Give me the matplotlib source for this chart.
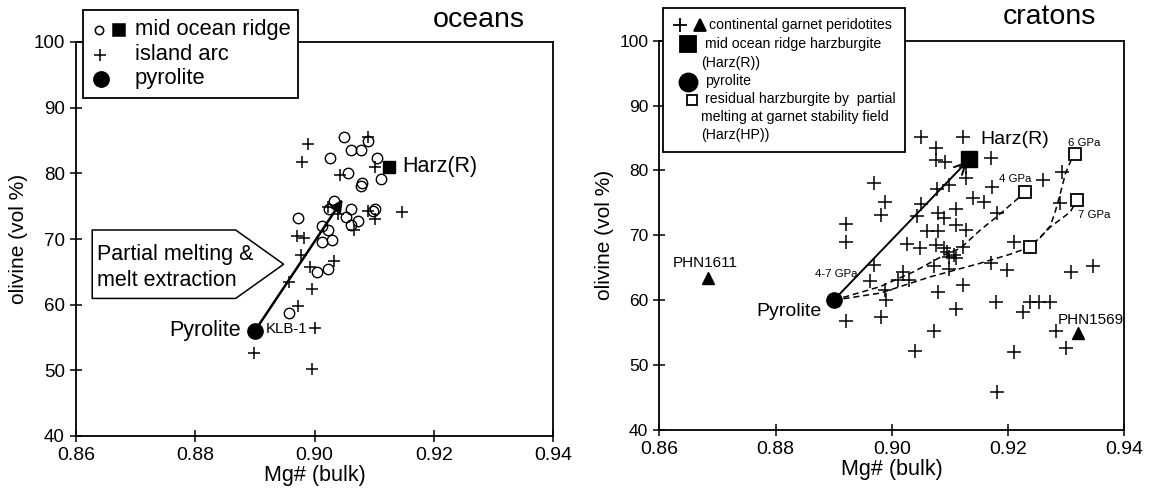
import matplotlib
matplotlib.use("Agg")
import matplotlib.pyplot as plt
from matplotlib.lines import Line2D
from matplotlib.patches import Rectangle, Polygon

plt.rcParams['font.family'] = ['Liberation Sans', 'DejaVu Sans']

# ---- oceans panel ----
mor_x = [0.9050, 0.9062, 0.9078, 0.9090, 0.9026, 0.9105, 0.9056, 0.9111, 0.9079,
         0.9078, 0.9032, 0.9024, 0.9062, 0.9101, 0.9098, 0.9053, 0.9073, 0.9061,
         0.8973, 0.9012, 0.9022, 0.9030, 0.9012, 0.9023, 0.9004, 0.8957]
mor_y = [85.5, 83.6, 83.6, 84.9, 82.4, 82.4, 80.1, 79.1, 78.5,
         78.0, 75.8, 74.6, 74.6, 74.6, 74.2, 73.4, 72.8, 72.1,
         73.2, 72.0, 71.4, 69.8, 69.5, 65.4, 64.9, 58.8]
arc_x = [0.8989, 0.8979, 0.9089, 0.9042, 0.9101, 0.9146, 0.9101, 0.9067, 0.9090,
         0.9023, 0.9040, 0.8971, 0.8982, 0.8978, 0.9032, 0.8993, 0.8957, 0.8996,
         0.8973, 0.9001, 0.8898, 0.8996]
arc_y = [84.4, 81.8, 85.5, 79.8, 80.9, 74.1, 73.0, 71.3, 74.3,
         74.8, 73.8, 70.4, 70.2, 67.5, 66.7, 65.7, 63.4, 62.4,
         59.8, 56.5, 52.7, 50.2]
oc_pyrolite = (0.890, 56.0)
oc_harz = (0.9125, 81.0)
oc_arrow_end = (0.905, 76.4)

# ---- cratons panel ----
gp_x = [0.9050, 0.9122, 0.9076, 0.9076, 0.9092, 0.9171, 0.9127, 0.9127, 0.8970,
        0.9098, 0.9078, 0.9173, 0.9260, 0.9292, 0.8989, 0.9051, 0.9140, 0.9159,
        0.9289, 0.8981, 0.9043, 0.9079, 0.9089, 0.9111, 0.9181, 0.8921, 0.9111,
        0.9127, 0.9079, 0.9060, 0.8922, 0.9027, 0.9048, 0.9076, 0.9089, 0.9122,
        0.9098, 0.9111, 0.9210, 0.8970, 0.9073, 0.9098, 0.9171, 0.9199, 0.9308,
        0.9346, 0.8962, 0.9019, 0.9010, 0.9029, 0.8989, 0.8990, 0.9079, 0.9122,
        0.9111, 0.9180, 0.9225, 0.9237, 0.9253, 0.9273, 0.8921, 0.8981, 0.9072,
        0.9283, 0.9300, 0.9040, 0.9211, 0.9181, 0.9095, 0.9107]
gp_y = [85.2, 85.2, 83.4, 81.6, 81.3, 81.9, 80.5, 78.9, 78.1,
        77.8, 77.1, 77.4, 78.5, 79.8, 75.2, 74.9, 75.7, 75.2,
        75.0, 73.2, 73.0, 73.4, 72.6, 74.0, 73.4, 71.7, 71.6,
        70.8, 70.6, 70.7, 68.9, 68.6, 68.0, 68.5, 68.0, 68.2,
        66.7, 66.5, 69.0, 65.4, 65.2, 64.8, 65.7, 64.7, 64.4,
        65.2, 62.9, 64.4, 63.1, 63.1, 61.6, 60.0, 61.2, 62.3,
        58.7, 59.8, 58.2, 59.8, 59.8, 59.8, 56.8, 57.4, 55.3,
        55.2, 52.7, 52.2, 52.0, 45.9, 67.5, 67.0]
tri_x = [0.8684, 0.9321]
tri_y = [63.5, 54.9]
tri_names = ["PHN1611", "PHN1569"]
hp_x = [0.9316, 0.9230, 0.9319, 0.9238]
hp_y = [82.6, 76.7, 75.5, 68.2]
cr_pyrolite = (0.890, 60.0)
cr_harz = (0.9133, 81.7)

# melting paths (dashed)
path_4gpa_x = [0.890, 0.898, 0.9038, 0.9095, 0.9118, 0.9152, 0.9181, 0.9230]
path_4gpa_y = [60.0, 62.1, 64.4, 67.2, 68.0, 70.8, 72.9, 76.7]
path_7gpa_x = [0.890, 0.898, 0.9066, 0.9152, 0.9204, 0.9238, 0.9273, 0.9307, 0.9319]
path_7gpa_y = [60.0, 61.1, 63.6, 65.7, 67.1, 68.2, 71.3, 73.6, 75.5]
path_6gpa_x = [0.9255, 0.9273, 0.9282, 0.9290, 0.9299, 0.9310, 0.9316]
path_6gpa_y = [69.6, 71.5, 73.9, 76.5, 79.6, 81.9, 82.6]

W, H = 1155, 495
fig = plt.figure(figsize=(W / 100, H / 100), dpi=100)


def px(x, y):
    return x / W, 1 - y / H


def style_axes(ax, ysize):
    ax.set_xlim(0.86, 0.94)
    ax.set_ylim(40, 100)
    ax.set_xticks([0.86, 0.88, 0.90, 0.92, 0.94])
    ax.set_xticklabels(["0.86", "0.88", "0.90", "0.92", "0.94"])
    ax.set_yticks([40, 50, 60, 70, 80, 90, 100])
    ax.tick_params(direction='inout', length=8, width=1.1, pad=4)
    ax.tick_params(axis='x', labelsize=14)
    ax.tick_params(axis='y', labelsize=ysize)
    for s in ax.spines.values():
        s.set_linewidth(1.3)
    ax.set_xlabel("Mg# (bulk)", fontsize=15.5, labelpad=1)
    ax.set_ylabel("olivine (vol %)", fontsize=15, labelpad=4)


# ================= oceans =================
ax1 = fig.add_axes([76 / W, 1 - 436 / H, 477 / W, 394 / H])
style_axes(ax1, 13.5)

ax1.plot(mor_x, mor_y, 'o', ms=7.5, mfc='none', mec='k', mew=1.0)
ax1.plot(arc_x, arc_y, '+', ms=9, mec='k', mew=1.1)
ax1.plot(*oc_harz, 's', ms=9, color='k')
ax1.plot(*oc_pyrolite, 'o', ms=11, color='k', zorder=5)
ax1.annotate('', xy=oc_arrow_end, xytext=oc_pyrolite,
             arrowprops=dict(arrowstyle='-|>', color='k', lw=1.8, mutation_scale=18))
ax1.text(0.8876, 56.0, "Pyrolite", fontsize=15.5, ha='right', va='center')
ax1.text(0.8918, 56.3, "KLB-1", fontsize=10.8, ha='left', va='center')
ax1.text(0.9148, 81.0, "Harz(R)", fontsize=15.5, ha='left', va='center')

# label box for the melting trend
box = Polygon([(0.86272, 71.37), (0.88678, 71.37), (0.89483, 66.16),
               (0.88678, 60.95), (0.86272, 60.95)],
              closed=True, fc='white', ec='k', lw=1.1, zorder=4)
ax1.add_patch(box)
ax1.text(0.86356, 67.6, "Partial melting &", fontsize=15.5, va='center', zorder=5)
ax1.text(0.86356, 63.7, "melt extraction", fontsize=15.5, va='center', zorder=5)

ax1.text(0.94, 1.055, "oceans", transform=ax1.transAxes, fontsize=20.5,
         ha='right', va='center')

# legend (oceans)
x0, y0 = px(83, 98)
x1, y1 = px(298, 10)
fig.add_artist(Rectangle((x0, y0), x1 - x0, y1 - y0, transform=fig.transFigure,
                         fc='white', ec='k', lw=1.3, zorder=10))
leg1 = [
    [('o', 99, 29.5, 6, 'none'), ('s', 119, 29.5, 8, 'k')],
    [('+', 100, 55, 9, 'k')],
    [('o', 101, 78.5, 11, 'k')],
]
for row in leg1:
    for mk, lx, ly, ms, fc in row:
        fx, fy = px(lx, ly)
        fig.add_artist(Line2D([fx], [fy], marker=mk, ms=ms, mfc=fc, mec='k',
                              mew=1.1, transform=fig.transFigure, zorder=11))
for label, ly in [("mid ocean ridge", 29.5), ("island arc", 55), ("pyrolite", 78.5)]:
    fx, fy = px(135, ly)
    fig.text(fx, fy, label, fontsize=15.8, va='center', zorder=11)

# ================= cratons =================
ax2 = fig.add_axes([659.3 / W, 1 - 430 / H, 465 / W, 389.3 / H])
style_axes(ax2, 12.5)

ax2.plot(gp_x, gp_y, '+', ms=10, mec='k', mew=1.1)
ax2.plot(path_4gpa_x, path_4gpa_y, '--', color='k', lw=1.1, dashes=(4, 2.5))
ax2.plot(path_7gpa_x, path_7gpa_y, '--', color='k', lw=1.1, dashes=(4, 2.5))
ax2.plot(path_6gpa_x, path_6gpa_y, '--', color='k', lw=1.1, dashes=(4, 2.5))
ax2.annotate('', xy=cr_harz, xytext=cr_pyrolite,
             arrowprops=dict(arrowstyle='->', color='k', lw=1.4, mutation_scale=20,
                             shrinkA=0, shrinkB=2))
ax2.plot(hp_x, hp_y, 's', ms=8, mfc='white', mec='k', mew=1.3, zorder=4)
ax2.plot(tri_x, tri_y, '^', ms=9, color='k')
ax2.plot(*cr_harz, 's', ms=12, color='k', zorder=5)
ax2.plot(*cr_pyrolite, 'o', ms=11, color='k', zorder=5)

ax2.text(0.9152, 84.7, "Harz(R)", fontsize=14, ha='left', va='center')
ax2.text(0.8879, 58.2, "Pyrolite", fontsize=14, ha='right', va='center')
ax2.text(0.8679, 65.7, tri_names[0], fontsize=11, ha='center', va='center')
ax2.text(0.9342, 57.0, tri_names[1], fontsize=11, ha='center', va='center')
ax2.text(0.8905, 64.1, "4-7 GPa", fontsize=8.2, ha='center', va='center')
ax2.text(0.9331, 84.3, "6 GPa", fontsize=8.2, ha='center', va='center')
ax2.text(0.9213, 78.7, "4 GPa", fontsize=8.2, ha='center', va='center')
ax2.text(0.9349, 73.1, "7 GPa", fontsize=8.2, ha='center', va='center')

ax2.text(0.94, 1.06, "cratons", transform=ax2.transAxes, fontsize=20.5,
         ha='right', va='center')

# legend (cratons)
x0, y0 = px(663, 152)
x1, y1 = px(905, 8)
fig.add_artist(Rectangle((x0, y0), x1 - x0, y1 - y0, transform=fig.transFigure,
                         fc='white', ec='k', lw=1.3, zorder=10))
leg2 = [
    ('+', 680, 25, 10, 'k'),
    ('^', 700, 25, 8, 'k'),
    ('s', 688, 44, 12, 'k'),
    ('o', 688, 81.5, 13, 'k'),
    ('s', 691.5, 99.5, 7, 'white'),
]
for mk, lx, ly, ms, fc in leg2:
    fx, fy = px(lx, ly)
    fig.add_artist(Line2D([fx], [fy], marker=mk, ms=ms, mfc=fc, mec='k',
                          mew=1.3, transform=fig.transFigure, zorder=11))
leg2_text = [
    ("continental garnet peridotites", 709, 25),
    ("mid ocean ridge harzburgite", 705, 44.3),
    ("(Harz(R))", 701, 63.3),
    ("pyrolite", 705, 80.7),
    ("residual harzburgite by  partial", 705, 99),
    ("melting at garnet stability field", 701, 117.3),
    ("(Harz(HP))", 701, 135.5),
]
for label, lx, ly in leg2_text:
    fx, fy = px(lx, ly)
    fig.text(fx, fy, label, fontsize=10.2, va='center', zorder=11)

fig.savefig("out.png", dpi=100)
